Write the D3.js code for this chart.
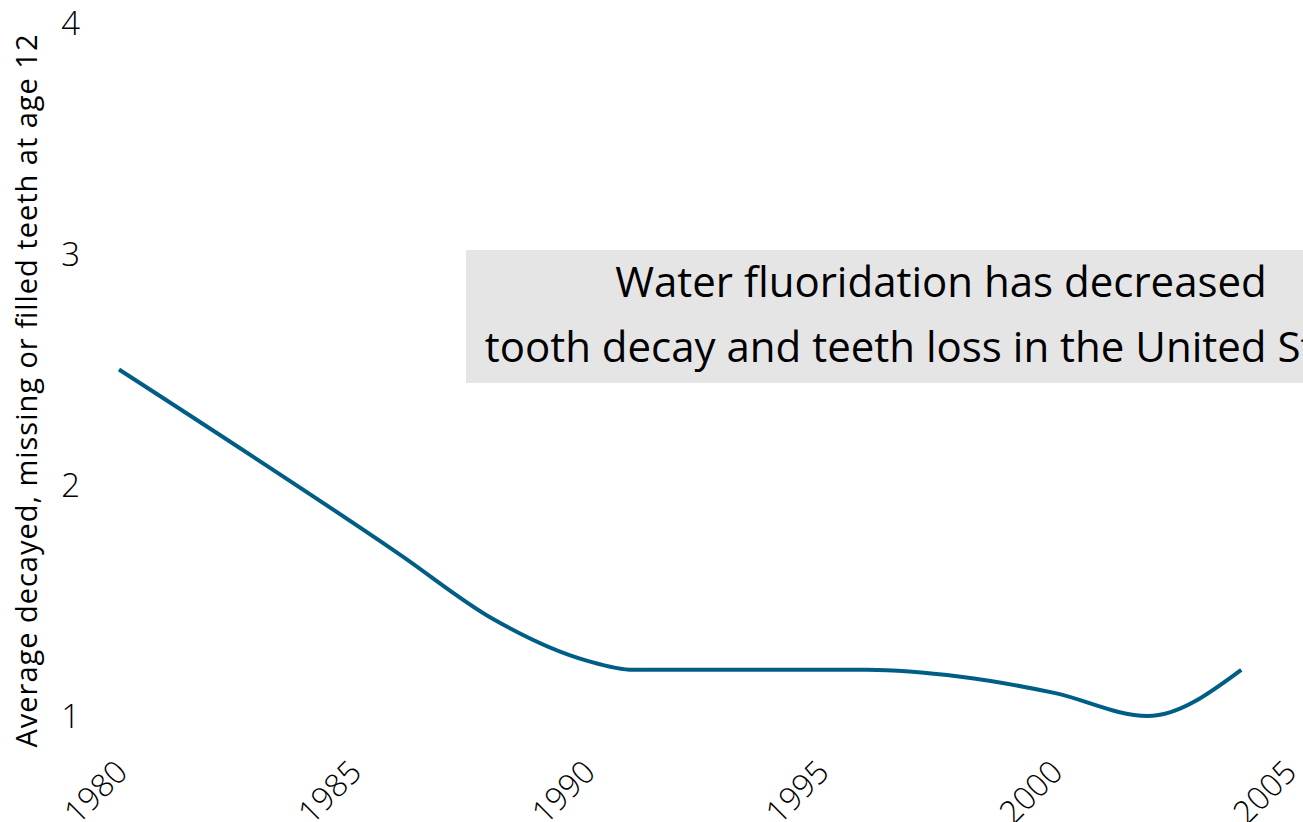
<!DOCTYPE html>
<html>
<head>
<meta charset="utf-8">
<script src="https://cdn.jsdelivr.net/npm/d3@7"></script>
<style>
  html, body { margin: 0; padding: 0; background: #fff; overflow: hidden; }
  svg { display: block; }
  text { font-family: "Open Sans", "Noto Sans", sans-serif; fill: #000; }
</style>
</head>
<body>
<svg id="chart" width="1303" height="822"></svg>
<script>
const years = [1980, 1986, 1988, 1990, 1991, 1996, 1998, 2000, 2002, 2004];
const dmft  = [2.5, 1.7, 1.42, 1.24, 1.2, 1.2, 1.17, 1.1, 1.0, 1.2];
const xTicks = [1980, 1985, 1990, 1995, 2000, 2005];
const yTicks = [1, 2, 3, 4];
const yTitle = "Average decayed, missing or filled teeth at age 12";
const noteLines = ["Water fluoridation has decreased", "tooth decay and teeth loss in the United States"];

const svg = d3.select("#chart");
const x = d3.scaleLinear().domain([1980, 2005]).range([119, 1288]);
const y = d3.scaleLinear().domain([1, 4]).range([716, 23]);

// annotation box
const noteG = svg.append("g");
noteG.append("rect")
  .attr("x", 466).attr("y", 250).attr("width", 950).attr("height", 133)
  .attr("fill", "#e5e5e5");
noteLines.forEach((t, i) => {
  noteG.append("text")
    .attr("x", 941).attr("y", 297 + i * 65)
    .attr("text-anchor", "middle")
    .style("font-size", "42px")
    .text(t);
});

// y axis
const yAxis = d3.axisLeft(y).tickValues(yTicks).tickSize(0).tickPadding(0).tickFormat(d3.format("d"));
const gy = svg.append("g").attr("transform", "translate(80,0)").call(yAxis);
gy.select(".domain").remove();
gy.selectAll("text").style("font-size", "33px").style("font-weight", 300)
  .attr("dy", "0.36em").attr("fill", "#000");

// x axis
const xAxis = d3.axisBottom(x).tickValues(xTicks).tickSize(0).tickPadding(0).tickFormat(d3.format("d"));
const gx = svg.append("g").attr("transform", "translate(0,760)").call(xAxis);
gx.select(".domain").remove();
gx.selectAll("text")
  .style("font-size", "32px").style("font-weight", 300)
  .attr("fill", "#000")
  .attr("text-anchor", "end")
  .attr("y", 0).attr("dy", 0)
  .attr("transform", "translate(10,14) rotate(-45)");

// y title
svg.append("text")
  .attr("transform", "translate(37,391) rotate(-90)")
  .attr("text-anchor", "middle")
  .attr("textLength", 713)
  .attr("lengthAdjust", "spacing")
  .style("font-size", "29px")
  .text(yTitle);

// line
const data = years.map((yr, i) => ({ yr, v: dmft[i] }));
svg.append("path")
  .datum(data)
  .attr("fill", "none")
  .attr("stroke", "#005e86")
  .attr("stroke-width", 4)
  .attr("d", d3.line().x(d => x(d.yr)).y(d => y(d.v)).curve(d3.curveMonotoneX));
</script>
</body>
</html>
